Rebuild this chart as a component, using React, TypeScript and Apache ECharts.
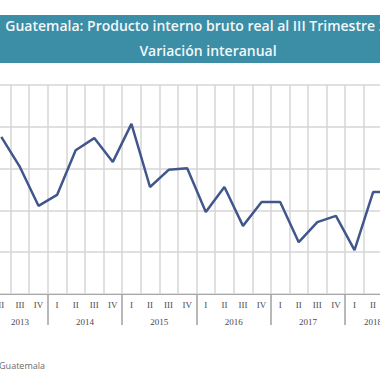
import React, { useEffect, useRef } from "react";
import * as echarts from "echarts";

const titleLine1 = "Guatemala: Producto interno bruto real al III Trimestre 2018";
const titleLine2 = "Variación interanual";
const sourceText = "Fuente: Banco de Guatemala";

const years = ["2013", "2014", "2015", "2016", "2017", "2018"];
const yearQuarters = [
  ["II", "III", "IV"],
  ["I", "II", "III", "IV"],
  ["I", "II", "III", "IV"],
  ["I", "II", "III", "IV"],
  ["I", "II", "III", "IV"],
  ["I", "II", "III"],
];
const growth = [
  4.76, 4.04, 3.11,
  3.37, 4.44, 4.73, 4.16,
  5.07, 3.56, 3.97, 4.01,
  2.96, 3.56, 2.63, 3.2,
  3.2, 2.24, 2.72, 2.87,
  2.05, 3.44, 3.44,
];

export default function App() {
  const ref = useRef<HTMLDivElement>(null);
  useEffect(() => {
    if (!ref.current) return;
    const chart = echarts.init(ref.current, null, { renderer: "svg" });

    const categories: string[] = [];
    years.forEach((y, i) => yearQuarters[i].forEach((q) => categories.push(y + "-" + q)));
    const boundaries: number[] = [];
    const centres: number[] = [];
    let acc = 0;
    yearQuarters.forEach((qs, i) => {
      centres.push(acc + qs.length / 2);
      acc += qs.length;
      if (i < yearQuarters.length - 1) boundaries.push(acc);
    });
    const total = acc;

    const W = 516;
    const gridColor = "#d6d6d6";
    const gridRect = { left: 42, right: 65, top: 85, bottom: 86, containLabel: false, outerBoundsMode: "none" };
    chart.setOption({
      animation: false,
      backgroundColor: "#ffffff",
      graphic: [
        {
          type: "rect",
          left: 0,
          top: 15,
          shape: { width: W, height: 48 },
          style: { fill: "#3b8ea6" },
          silent: true,
        },
        {
          type: "text",
          left: "center",
          top: 18,
          style: {
            text: titleLine1,
            fill: "#f2f8fa",
            font: "600 14px 'Open Sans', sans-serif",
          },
        },
        {
          type: "text",
          left: "center",
          top: 43,
          style: {
            text: titleLine2,
            fill: "#f2f8fa",
            font: "600 14px 'Open Sans', sans-serif",
          },
        },
        {
          type: "text",
          right: W - 95,
          top: 361,
          style: {
            text: sourceText,
            fill: "#6b6b6b",
            font: "9px 'Open Sans', sans-serif",
          },
        },
      ],
      grid: [{ ...gridRect }, { ...gridRect }],
      xAxis: [
        {
          type: "category",
          gridIndex: 0,
          data: categories,
          boundaryGap: true,
          position: "bottom",
          axisLine: { show: true, lineStyle: { color: "#a8a8a8", width: 1 } },
          axisTick: { show: false },
          splitLine: { show: true, interval: 0, lineStyle: { color: gridColor, width: 1.5 } },
          axisLabel: {
            interval: 0,
            margin: 6,
            formatter: (v: string) => v.split("-")[1],
            fontFamily: "'Liberation Serif', serif",
            fontSize: 9,
            color: "#4a4a4a",
          },
        },
        {
          type: "value",
          gridIndex: 1,
          min: 0,
          max: total,
          position: "bottom",
          axisLine: { show: false },
          splitLine: { show: false },
          axisTick: {
            show: true,
            customValues: boundaries,
            length: 31,
            lineStyle: { color: "#a0a0a0", width: 1.5 },
          },
          axisLabel: {
            show: true,
            customValues: centres,
            margin: 23,
            formatter: (v: number) => {
              let best = 0;
              centres.forEach((c, i) => {
                if (Math.abs(c - v) < Math.abs(centres[best] - v)) best = i;
              });
              return years[best];
            },
            fontFamily: "'Liberation Serif', serif",
            fontSize: 9,
            color: "#4a4a4a",
          },
        },
      ],
      yAxis: [
        {
          type: "value",
          gridIndex: 0,
          min: 1,
          max: 6,
          interval: 1,
          axisLine: { show: false },
          axisTick: { show: false },
          axisLabel: { show: false },
          splitLine: { show: true, lineStyle: { color: gridColor, width: 1.5 } },
        },
        {
          type: "value",
          gridIndex: 1,
          min: 1,
          max: 6,
          interval: 1,
          show: false,
          splitLine: { show: false },
        },
      ],
      series: [
        {
          type: "line",
          xAxisIndex: 0,
          yAxisIndex: 0,
          data: growth,
          symbol: "none",
          lineStyle: { color: "#41578c", width: 2.5 },
        },
      ],
    });
    return () => chart.dispose();
  }, []);

  return (
    <div style={{ position: "fixed", left: 0, top: 0, width: 380, height: 380, overflow: "hidden", background: "#fff" }}>
      <div ref={ref} style={{ position: "absolute", left: -50, top: 0, width: 516, height: 380 }} />
    </div>
  );
}
